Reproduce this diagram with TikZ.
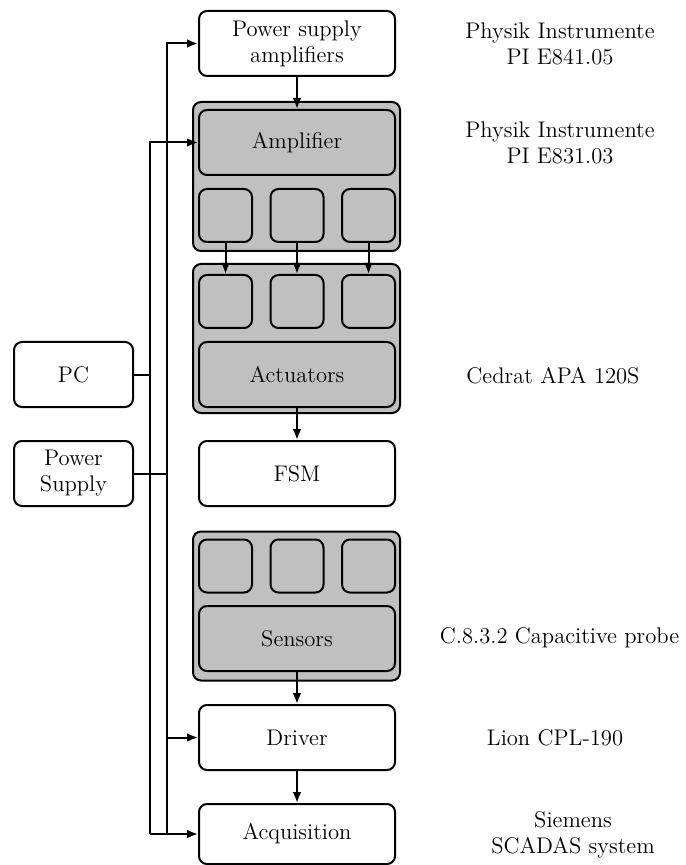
\documentclass[tikz,border=0pt]{standalone}
\usetikzlibrary{arrows.meta}
\definecolor{boxgray}{RGB}{192,192,192}
\begin{document}
\begin{tikzpicture}[x=0.5pt,y=-0.5pt,
  font=\fontsize{11.3}{13}\selectfont,
  box/.style={draw,line width=1pt,rounded corners=4pt,align=center,inner sep=0pt,
    minimum width=98pt,minimum height=32.5pt},
  side/.style={draw,line width=1pt,rounded corners=4pt,align=center,inner sep=0pt,
    minimum width=59.5pt,minimum height=32.5pt},
  group/.style={draw,line width=1pt,rounded corners=4pt,fill=boxgray,inner sep=0pt,
    minimum width=103.5pt,minimum height=74.5pt},
  gbox/.style={box,fill=boxgray},
  small/.style={draw,line width=1pt,rounded corners=4pt,fill=boxgray,inner sep=0pt,
    minimum width=26.5pt,minimum height=26.5pt},
  conn/.style={line width=1pt},
  arr/.style={conn,-{Latex[length=5.5pt,width=4.4pt]}},
  lbl/.style={align=center,inner sep=0pt}]
\useasboundingbox (0,0) rectangle (685,865);
% main column
\node[box] (psa) at (297,43.5) {Power supply\\amplifiers};
\node[group] (ampg) at (296.5,176.5) {};
\node[gbox] (amp) at (297,142.5) {Amplifier};
\node[small] (a1) at (225.5,215.5) {};
\node[small] (a2) at (297,215.5) {};
\node[small] (a3) at (368.5,215.5) {};
\node[group] (actg) at (296.5,338.5) {};
\node[small] (b1) at (225.5,301.5) {};
\node[small] (b2) at (297,301.5) {};
\node[small] (b3) at (368.5,301.5) {};
\node[gbox] (act) at (297,374.5) {Actuators};
\node[box] (fsm) at (297,473.5) {FSM};
\node[group] (sensg) at (296.5,606) {};
\node[small] (c1) at (225.5,566) {};
\node[small] (c2) at (297,566) {};
\node[small] (c3) at (368.5,566) {};
\node[gbox] (sens) at (297,638.5) {Sensors};
\node[box] (drv) at (297,737.5) {Driver};
\node[box,minimum height=30pt] (acq) at (297,834) {Acquisition};
% left
\node[side] (pc) at (73.5,374.5) {PC};
\node[side] (ps) at (73.5,473.5) {Power\\Supply};
% labels
\node[lbl] (l1) at (560,44) {Physik Instrumente\\PI E841.05};
\node[lbl] (l2) at (560,143) {Physik Instrumente\\PI E831.03};
\node[lbl] (l3) at (553,376) {Cedrat APA 120S};
\node[lbl] (l4) at (559.5,638) {C.8.3.2 Capacitive probe};
\node[lbl] (l5) at (555,738) {Lion CPL-190};
\node[lbl] (l6) at (573,835) {Siemens\\SCADAS system};
% buses
\coordinate (b1bot) at (150,834);
\coordinate (b2bot) at (167,834);
\draw[arr] (b1bot) |- (amp.west);
\draw[arr] (b2bot) |- (psa.west);
\draw[arr] (b1bot) -- (acq.west);
\draw[arr] (drv.west -| b2bot) -- (drv.west);
\draw[conn] (pc.east) -- (pc.east -| b1bot);
\draw[conn] (ps.east) -- (ps.east -| b2bot);
% vertical arrows
\draw[arr] (psa.south) -- (amp.north);
\draw[arr] (a1.south) -- (b1.north);
\draw[arr] (a2.south) -- (b2.north);
\draw[arr] (a3.south) -- (b3.north);
\draw[arr] (act.south) -- (fsm.north);
\draw[arr] (sens.south) -- (drv.north);
\draw[arr] (drv.south) -- (acq.north);
\end{tikzpicture}
\end{document}
